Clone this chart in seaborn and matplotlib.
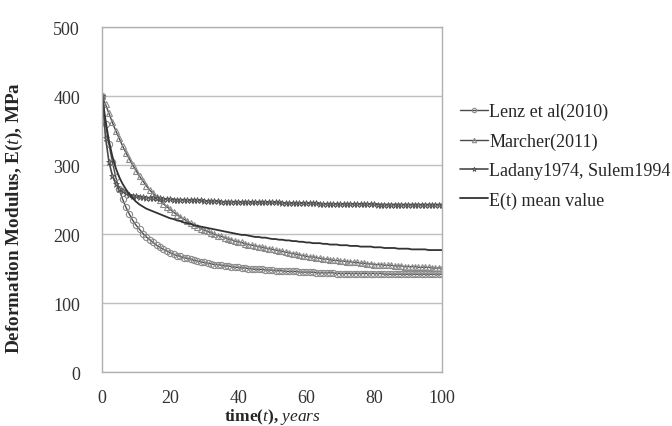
import numpy as np
import pandas as pd
import matplotlib.pyplot as plt
import seaborn as sns

years = list(range(0, 101))

lenz = [400, 360, 330, 305, 283, 265, 251, 239, 229, 220,
        213, 207, 201, 196, 192, 188, 184, 181, 178, 176,
        173, 171, 169, 168, 166, 165, 164, 162, 161, 160,
        159, 158, 157, 156, 156, 155, 154, 154, 153, 152,
        152, 151, 151, 150, 150, 149, 149, 149, 148, 148,
        148, 147, 147, 147, 146, 146, 146, 146, 145, 145,
        145, 145, 145, 144, 144, 144, 144, 144, 144, 143,
        143, 143, 143, 143, 143, 143, 143, 143, 143, 143,
        143, 143, 143, 142, 142, 142, 142, 142, 142, 142,
        142, 142, 142, 142, 142, 142, 142, 142, 142, 142, 142]

marcher = [400, 388, 375, 362, 350, 339, 328, 318, 309, 300,
           292, 284, 277, 270, 264, 259, 254, 249, 244, 240,
           236, 232, 228, 225, 222, 219, 216, 213, 211, 208,
           206, 204, 202, 200, 198, 197, 195, 193, 192, 190,
           189, 188, 186, 185, 184, 183, 182, 181, 180, 179,
           178, 177, 176, 175, 174, 173, 172, 171, 170, 169,
           168, 167, 167, 166, 165, 164, 164, 163, 162, 162,
           161, 161, 160, 160, 159, 159, 158, 158, 157, 157,
           156, 156, 156, 155, 155, 155, 154, 154, 154, 153,
           153, 153, 153, 152, 152, 152, 152, 151, 151, 151, 151]

ladany = [400, 340, 305, 285, 273, 266, 262, 259, 257, 256,
          255, 254, 254, 253, 253, 252, 252, 252, 251, 251,
          251, 250, 250, 250, 250, 249, 249, 249, 249, 249,
          248, 248, 248, 248, 248, 247, 247, 247, 247, 247,
          247, 246, 246, 246, 246, 246, 246, 246, 246, 246,
          246, 246, 246, 245, 245, 245, 245, 245, 245, 245,
          245, 245, 245, 245, 244, 244, 244, 244, 244, 244,
          244, 244, 244, 244, 244, 244, 244, 244, 244, 244,
          244, 243, 243, 243, 243, 243, 243, 243, 243, 243,
          243, 243, 243, 243, 243, 243, 243, 243, 243, 243, 243]

mean_val = [400, 365, 335, 313, 296, 283, 273, 265, 258, 252,
            247, 243, 240, 237, 235, 233, 231, 229, 227, 225,
            223, 222, 220, 219, 217, 216, 215, 213, 212, 211,
            210, 209, 208, 207, 206, 205, 204, 203, 202, 201,
            200, 199, 199, 198, 197, 196, 196, 195, 195, 194,
            193, 193, 192, 192, 191, 191, 190, 190, 189, 189,
            188, 188, 187, 187, 187, 186, 186, 185, 185, 185,
            184, 184, 184, 183, 183, 183, 182, 182, 182, 182,
            181, 181, 181, 180, 180, 180, 180, 179, 179, 179,
            179, 178, 178, 178, 178, 178, 177, 177, 177, 177, 177]

labels = ["Lenz et al(2010)", "Marcher(2011)", "Ladany1974, Sulem1994", "E(t) mean value"]

sns.set_style("white")
plt.rcParams['font.family'] = ['Liberation Serif', 'DejaVu Serif']
plt.rcParams['mathtext.fontset'] = 'custom'
plt.rcParams['mathtext.rm'] = 'Liberation Serif'
plt.rcParams['mathtext.it'] = 'Liberation Serif:italic'
plt.rcParams['mathtext.bf'] = 'Liberation Serif:bold'
plt.rcParams['mathtext.bfit'] = 'Liberation Serif:bold:italic'

fig = plt.figure(figsize=(6.72, 4.27), dpi=100)
ax = fig.add_axes([0.152, 0.126, 0.506, 0.808])

line_c = "#4a4a4a"
mk_c = "#8a8a8a"

sns.lineplot(x=years, y=lenz, ax=ax, color=line_c, lw=1.0, marker="o", markersize=4.5,
             markerfacecolor="none", markeredgecolor=mk_c, markeredgewidth=0.8, label=labels[0])
sns.lineplot(x=years, y=marcher, ax=ax, color=line_c, lw=1.0, marker="^", markersize=4.5,
             markerfacecolor="none", markeredgecolor=mk_c, markeredgewidth=0.8, label=labels[1])
sns.lineplot(x=years, y=ladany, ax=ax, color=line_c, lw=1.2, marker="*", markersize=5,
             markerfacecolor=mk_c, markeredgecolor=line_c, markeredgewidth=0.5, label=labels[2])
sns.lineplot(x=years, y=mean_val, ax=ax, color="#333333", lw=1.3, label=labels[3])

ax.set_xlim(0, 100)
ax.set_ylim(0, 500)
ax.set_xticks([0, 20, 40, 60, 80, 100])
ax.set_yticks([0, 100, 200, 300, 400, 500])
ax.yaxis.grid(True, color="#c0c0c0", lw=1.0)
for s in ax.spines.values():
    s.set_color("#b0b0b0")
    s.set_linewidth(1.0)
ax.tick_params(axis="both", labelsize=13, labelcolor="#333333", length=4,
               color="#b0b0b0", direction="out")
ax.tick_params(axis="y", pad=12)
ax.tick_params(axis="x", pad=8)

ax.set_xlabel(r"time($\mathit{t}$), $\mathit{years}$", fontsize=12.5, fontweight="bold", labelpad=0)
ax.set_ylabel(r"Deformation Modulus, E($\mathit{t}$), MPa", fontsize=13.8, fontweight="bold")
ax.yaxis.set_label_coords(-0.228, 0.45)

leg = ax.legend(loc="center left", bbox_to_anchor=(1.03, 0.627), frameon=False, fontsize=13,
                handlelength=1.6, handletextpad=0.05, labelspacing=0.68, borderaxespad=0,
                markerscale=0.7)

fig.savefig("out.png", dpi=100)
